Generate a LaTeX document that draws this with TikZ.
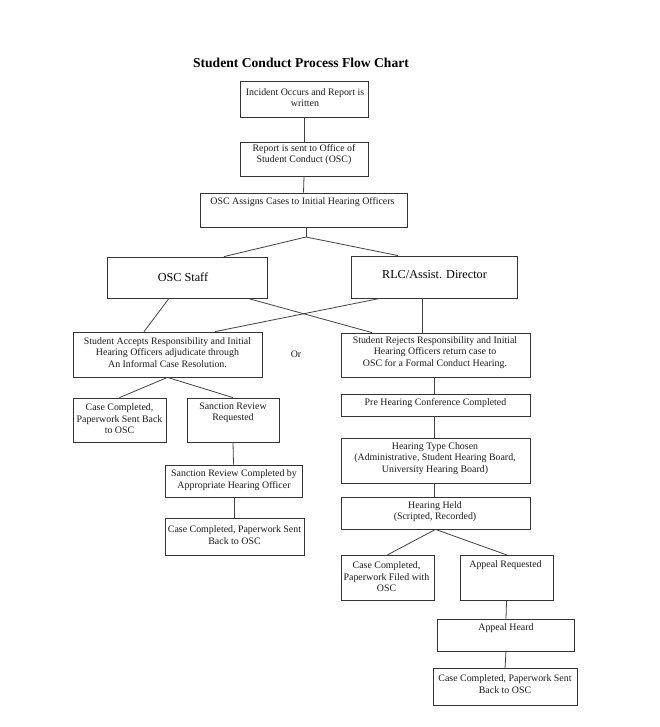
\documentclass[tikz,border=0pt]{standalone}
\usepackage{fontspec}
\setmainfont{Liberation Serif}
\begin{document}
\begin{tikzpicture}[x=1pt,y=-1pt,
  box/.style={draw=black!80, line width=0.8pt, rectangle, inner sep=0pt},
  conn/.style={draw=black!75, line width=0.8pt},
  txt/.style={inner sep=0pt, align=center, text=black!90, font=\fontsize{9.9}{11.5}\selectfont},
  bigtxt/.style={inner sep=0pt, align=center, text=black, font=\fontsize{12.2}{14}\selectfont}]
\useasboundingbox (0,0) rectangle (659,727);
% title
\node[inner sep=0pt, font=\fontsize{13.6}{15}\selectfont\bfseries] (title) at (301,63) {Student Conduct Process Flow Chart};
% boxes
\node[box, minimum width=128pt, minimum height=36pt] (inc) at (304,99) {};
\node[box, minimum width=128pt, minimum height=34pt] (rep) at (304,159) {};
\node[box, minimum width=207pt, minimum height=34pt] (asg) at (303.5,210) {};
\node[box, minimum width=160pt, minimum height=41pt] (osc) at (187,277.5) {};
\node[box, minimum width=166pt, minimum height=42pt] (rlc) at (434,277) {};
\node[box, minimum width=189pt, minimum height=45pt] (acc) at (167.5,354.5) {};
\node[box, minimum width=189pt, minimum height=44pt] (rej) at (435.5,355) {};
\node[box, minimum width=93pt, minimum height=44pt] (cc1) at (119.5,420) {};
\node[box, minimum width=92pt, minimum height=44pt] (srr) at (233,420) {};
\node[box, minimum width=137pt, minimum height=32pt] (src) at (233.5,481) {};
\node[box, minimum width=139pt, minimum height=36.5pt] (cc2) at (234.5,537) {};
\node[box, minimum width=189pt, minimum height=22pt] (pre) at (435.5,405) {};
\node[box, minimum width=189pt, minimum height=45pt] (htc) at (435.5,460.5) {};
\node[box, minimum width=189pt, minimum height=32pt] (hh) at (435.5,513) {};
\node[box, minimum width=93pt, minimum height=45.5pt] (ccf) at (387.5,578) {};
\node[box, minimum width=93pt, minimum height=45.5pt] (ar) at (506.5,578) {};
\node[box, minimum width=136.5pt, minimum height=32pt] (ah) at (506,635) {};
\node[box, minimum width=144pt, minimum height=36.5pt] (cc3) at (505,687) {};
% texts
\node[txt] (tinc) at (305,97.7) {Incident Occurs and Report is\\written};
\node[txt] (trep) at (304,154.5) {Report is sent to Office of\\Student Conduct (OSC)};
\node[txt] (tasg) at (302.5,202) {OSC Assigns Cases to Initial Hearing Officers};
\node[bigtxt] (tosc) at (183,277) {OSC Staff};
\node[bigtxt] (trlc) at (434.5,275) {RLC/Assist. Director};
\node[txt] (tacc) at (167.5,352.6) {Student Accepts Responsibility and Initial\\Hearing Officers adjudicate through\\An Informal Case Resolution.};
\node[txt] (tor) at (296,354) {Or};
\node[txt] (trej) at (435,352.6) {Student Rejects Responsibility and Initial\\Hearing Officers return case to\\OSC for a Formal Conduct Hearing.};
\node[txt] (tcc1) at (119.5,418.7) {Case Completed,\\Paperwork Sent Back\\to OSC};
\node[txt] (tsrr) at (233,413) {Sanction Review\\Requested};
\node[txt] (tpre) at (435.5,403) {Pre Hearing Conference Completed};
\node[txt] (thtc) at (435,458.5) {Hearing Type Chosen\\(Administrative, Student Hearing Board,\\University Hearing Board)};
\node[txt] (thh) at (435,511.5) {Hearing Held\\(Scripted, Recorded)};
\node[txt] (tsrc) at (234,480) {Sanction Review Completed by\\Appropriate Hearing Officer};
\node[txt] (tcc2) at (234.5,535) {Case Completed, Paperwork Sent\\Back to OSC};
\node[txt] (tccf) at (386.5,577) {Case Completed,\\Paperwork Filed with\\OSC};
\node[txt] (tar) at (505.5,565) {Appeal Requested};
\node[txt] (tah) at (506,628.6) {Appeal Heard};
\node[txt] (tcc3) at (505,684) {Case Completed, Paperwork Sent\\Back to OSC};
% connectors
\coordinate (j1) at (306,237);
\draw[conn] (inc.south) -- (rep.north);
\draw[conn] (rep.south) -- (asg.north);
\draw[conn] (j1 |- asg.south) -- (j1);
\draw[conn] (j1) -- ([xshift=37pt]osc.north);
\draw[conn] (j1) -- ([xshift=-36pt]rlc.north);
\draw[conn] ([xshift=-18pt]osc.south) -- ([xshift=-23.5pt]acc.north);
\draw[conn] ([xshift=61pt]osc.south) -- ([xshift=-63.5pt]rej.north);
\draw[conn] ([xshift=-54pt]rlc.south) -- ([xshift=47.5pt]acc.north);
\draw[conn] ([xshift=-12pt]rlc.south) -- ([xshift=-13.5pt]rej.north);
\draw[conn] (acc.south) -- (cc1.north);
\draw[conn] (acc.south) -- (srr.north);
\draw[conn] (srr.south) -- (src.north);
\draw[conn] (cc2.north |- src.south) -- (cc2.north);
\draw[conn] ([xshift=-1.5pt]rej.south) -- ([xshift=-1.5pt]pre.north);
\draw[conn] ([xshift=-1.5pt]pre.south) -- ([xshift=-1.5pt]htc.north);
\draw[conn] ([xshift=-1.5pt]htc.south) -- ([xshift=-1.5pt]hh.north);
\draw[conn] (hh.south) -- (ccf.north);
\draw[conn] (hh.south) -- (ar.north);
\draw[conn] (ar.south) -- (ah.north);
\draw[conn] (ah.south) -- (cc3.north);
\end{tikzpicture}
\end{document}
